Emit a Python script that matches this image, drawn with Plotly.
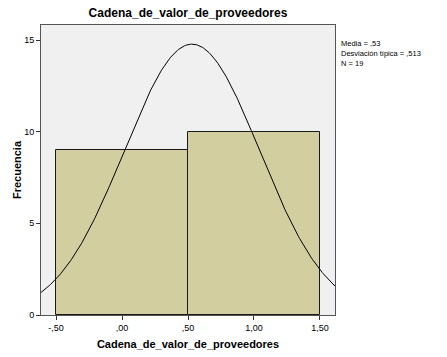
import numpy as np
import plotly.graph_objects as go

# Data
bin_centers = [0.0, 1.0]
bin_counts = [9, 10]
bin_width = 1.0
mean_val = 0.53
sd_val = 0.513
n_val = 19
x_tickvals = [-0.5, 0.0, 0.5, 1.0, 1.5]
x_ticktext = ["-,50", ",00", ",50", "1,00", "1,50"]
y_tickvals = [0, 5, 10, 15]
stats_lines = ["Media = ,53", "Desviación típica = ,513", "N = 19"]

xs = np.linspace(-0.614, 1.614, 300)
ys = n_val * bin_width / (sd_val * np.sqrt(2 * np.pi)) * np.exp(-0.5 * ((xs - mean_val) / sd_val) ** 2)

font_family = "Liberation Sans, Arial, sans-serif"

fig = go.Figure()
fig.add_trace(go.Bar(
    x=bin_centers, y=bin_counts, width=bin_width,
    marker=dict(color="#d3cea0", line=dict(color="#1a1a1a", width=1)),
    hoverinfo="skip",
))
fig.add_trace(go.Scatter(
    x=xs, y=ys, mode="lines", line=dict(color="#000000", width=1), hoverinfo="skip",
))

fig.update_layout(
    width=447, height=357,
    margin=dict(l=41, r=112, t=25, b=42, autoexpand=False),
    paper_bgcolor="#ffffff",
    plot_bgcolor="#f0f0f0",
    showlegend=False,
    bargap=0,
    font=dict(family=font_family, color="#000000", size=9),
    title=dict(
        text="<b>Cadena_de_valor_de_proveedores</b>",
        x=(41 + 335) / 2 / 447, xanchor="center",
        y=1 - 13 / 357, yanchor="middle",
        font=dict(size=12, family=font_family, color="#000000"),
    ),
    xaxis=dict(
        range=[-0.614, 1.614], automargin=False,
        tickvals=x_tickvals, ticktext=x_ticktext,
        ticks="outside", ticklen=4, tickcolor="#333333",
        showgrid=False, zeroline=False,
        showline=True, linecolor="#555555", linewidth=1, mirror=True,
        tickfont=dict(size=9),
        title=dict(text="<b>Cadena_de_valor_de_proveedores</b>", font=dict(size=11), standoff=8),
    ),
    yaxis=dict(
        range=[0, 15.82], automargin=False,
        tickvals=y_tickvals,
        ticks="outside", ticklen=4, tickcolor="#333333",
        showgrid=False, zeroline=False,
        showline=True, linecolor="#555555", linewidth=1, mirror=True,
        tickfont=dict(size=9),
        title=dict(text="<b>Frecuencia</b>", font=dict(size=11), standoff=0),
    ),
    annotations=[dict(
        xref="paper", yref="paper",
        x=1 + 4 / 294, y=1 - 12 / 290, xanchor="left", yanchor="top",
        text="<br>".join(stats_lines), showarrow=False, align="left",
        font=dict(size=7.5, family=font_family, color="#000000"),
    )],
)

fig.write_html(
    "out.html",
    config={"displayModeBar": False},
    post_script="document.body.style.margin='0';document.body.style.overflow='hidden';",
)
